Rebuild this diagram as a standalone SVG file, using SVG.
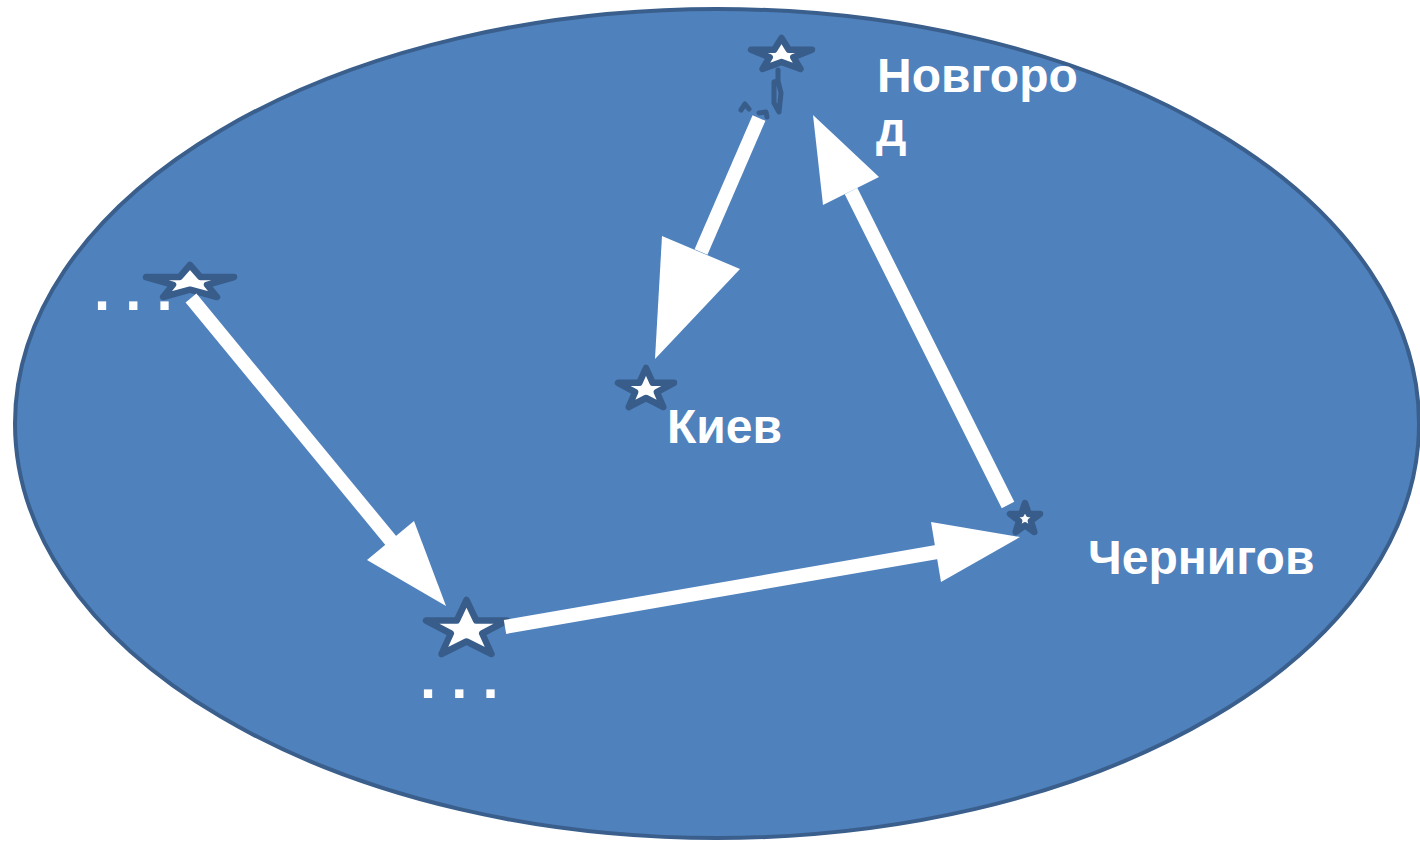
<svg xmlns="http://www.w3.org/2000/svg" width="1420" height="843" viewBox="0 0 1420 843">
<style>
.star{fill:#ffffff;stroke:#385d8a;stroke-width:6.5;stroke-linejoin:round}
.shaft{stroke:#ffffff;stroke-width:14;fill:none}
.head{fill:#ffffff}
.lbl{font-family:"Liberation Sans",Arial,sans-serif;font-weight:bold;font-size:48px;fill:#ffffff}
.dots{font-family:"Liberation Sans",Arial,sans-serif;font-weight:bold;font-size:58px;fill:#ffffff}
.frag{fill:none;stroke:#385d8a;stroke-width:5;stroke-linejoin:round;stroke-linecap:round}
</style>
<rect width="1420" height="843" fill="#ffffff"/>
<g id="region">
<ellipse cx="717" cy="423.5" rx="702" ry="414.5" fill="#4f81bd" stroke="#3a5f8c" stroke-width="4"/>
</g>
<g id="node-west">
<polygon class="star" points="190,265 200.5,277.1 234,277.1 207,284.8 217,297 190,289.7 163,297 173,284.8 146,277.1 179.5,277.1"/>
<text class="dots" x="94" y="310" letter-spacing="-0.5">. . .</text>
</g>
<g id="node-south">
<polygon class="star" points="466.5,600 476.2,620.5 507,620.5 482.2,633.5 491.5,654 466.5,641.5 441.5,654 450.8,633.5 426,620.5 456.8,620.5"/>
<text class="dots" x="420" y="698" letter-spacing="-0.5">. . .</text>
</g>
<g id="node-kiev">
<polygon class="star" points="646,368 652.7,382.8 674,382.8 656.9,392.2 663.3,407 646,398 628.7,407 635.1,392.2 618,382.8 639.3,382.8"/>
<text class="lbl" x="667" y="443">Киев</text>
</g>
<g id="node-chernigov">
<polygon class="star" points="1025,503 1028.7,513.9 1040,513.9 1030.9,521 1034.3,532 1025,525.3 1015.7,532 1019.1,521 1010,513.9 1021.3,513.9"/>
<text class="lbl" x="1088" y="574">Чернигов</text>
</g>
<g id="node-novgorod">
<polygon class="star" points="781.5,38 788.8,49.7 812,49.7 793.3,57.3 800.5,69 781.5,62 762.5,69 769.7,57.3 751,49.7 774.2,49.7"/>
<path class="frag" d="M778,70 L778,81 L774,82 L774,103 L779,112 L781,93 L778,81 M741,110 L745,104 L749,109 M759,113 L766,112 L767,117"/>
<text class="lbl" x="877" y="92">Новгоро</text>
<text class="lbl" x="876" y="146">д</text>
</g>
<g id="connectors">
<line class="shaft" x1="191" y1="298" x2="392" y2="542"/>
<polygon class="head" points="414,521 367,560 446,606"/>
<line class="shaft" x1="505" y1="627" x2="937" y2="552"/>
<polygon class="head" points="931,522 941,582 1020,537"/>
<line class="shaft" x1="1008" y1="505" x2="851" y2="191"/>
<polygon class="head" points="823,205 879,177 813,115"/>
<line class="shaft" x1="759" y1="118" x2="701" y2="252"/>
<polygon class="head" points="662,236 740,269 655,359"/>
</g>
</svg>
